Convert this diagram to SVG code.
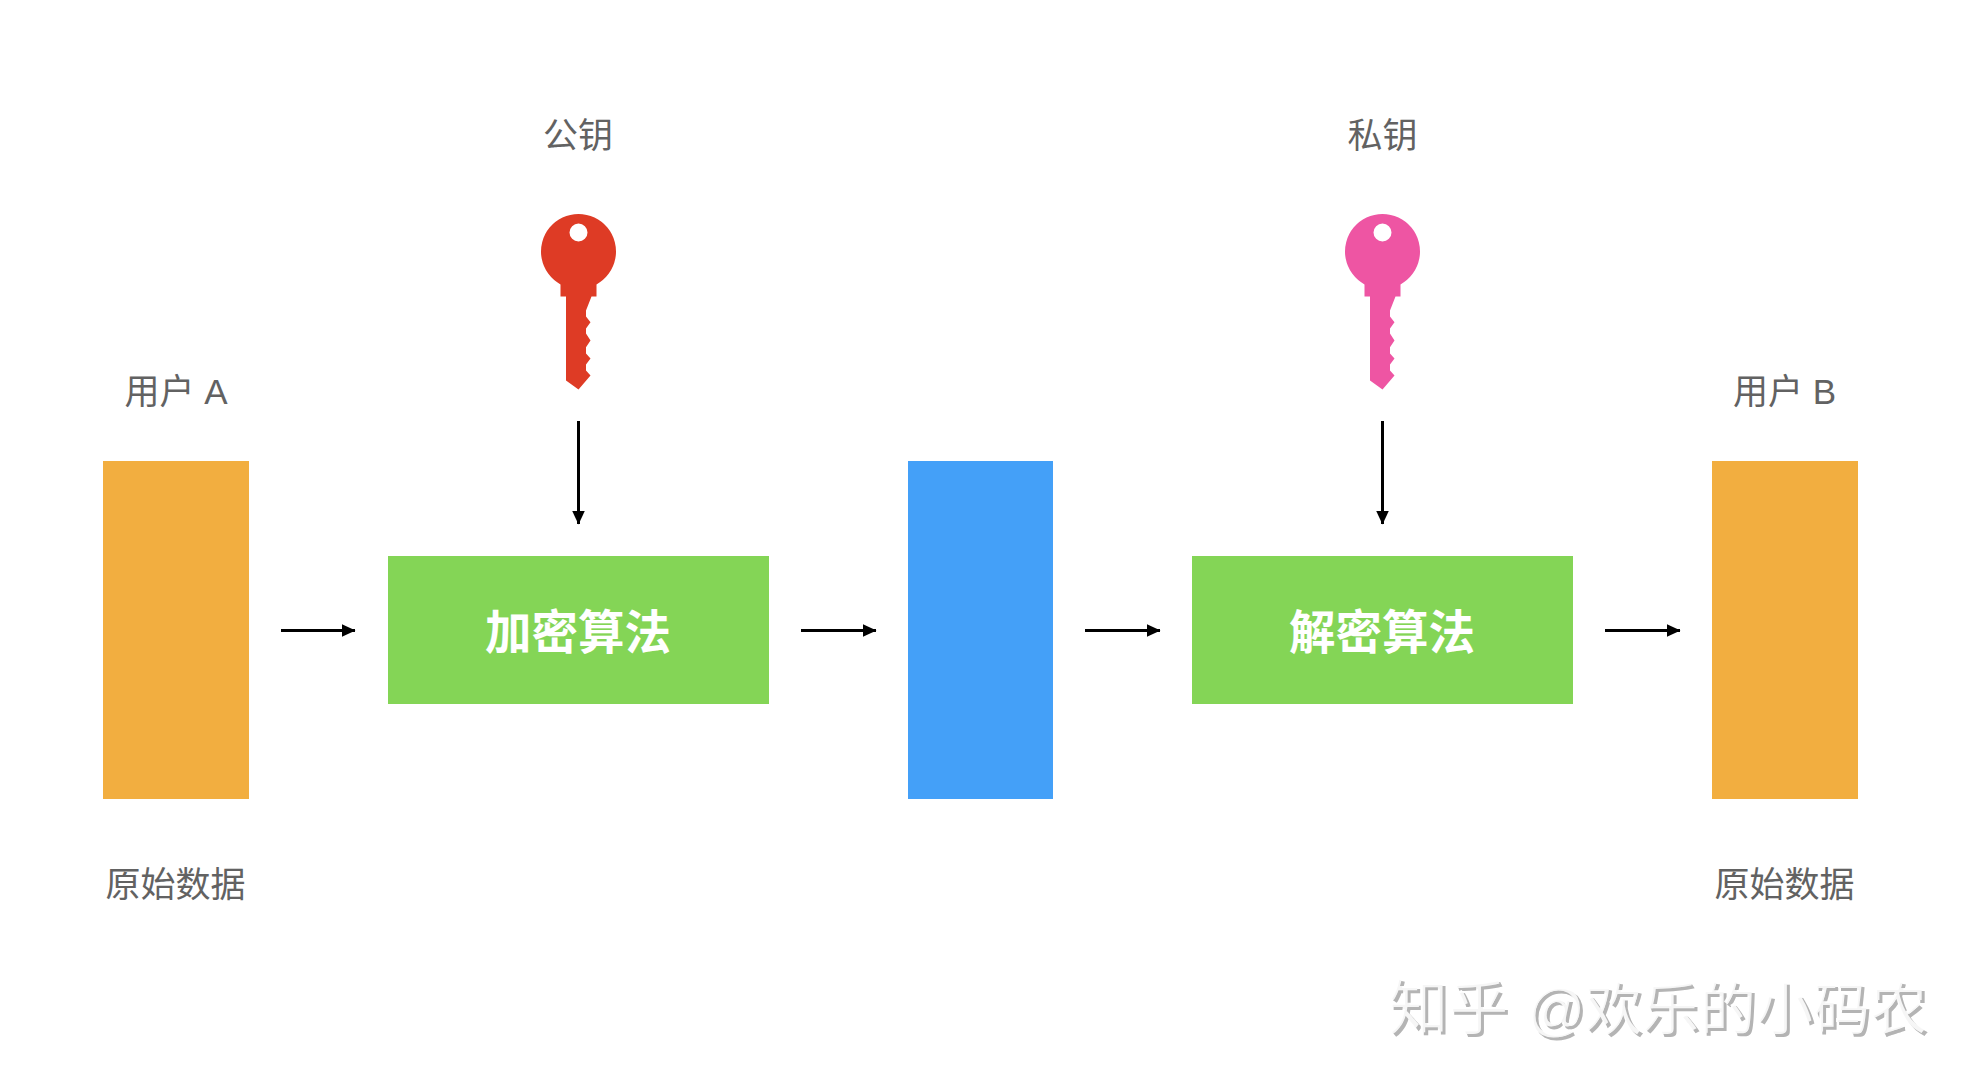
<svg xmlns="http://www.w3.org/2000/svg" xmlns:xlink="http://www.w3.org/1999/xlink" width="1978" height="1088" viewBox="0 0 1978 1088">
<style>
text{font-family:"Liberation Sans","Noto Sans CJK SC",sans-serif;text-anchor:middle}
.lb{font-size:35px;fill:#626262}
.alg{font-size:46.500px;font-weight:700;fill:#fff}
.wm{font-size:57px;fill:#b4b4b4;text-anchor:start}
.orange{fill:#f2ae40}.green{fill:#84d556}.blue{fill:#44a0f8}
.conn{stroke:#000;stroke-width:3;fill:none;marker-end:url(#ah)}
</style>
<defs>
<marker id="ah" viewBox="0 0 14 14" refX="13.5" refY="7" markerWidth="14" markerHeight="14" markerUnits="userSpaceOnUse" orient="auto"><path d="M0 0.5L14 7L0 13.5Z" fill="#000"/></marker>
<path id="key" fill-rule="evenodd" d="M-18 32.900A37.500 37.500 0 1 1 18 32.900V45H13L7.500 59V65L12 70.700L7.500 77V82L12 89L7.500 95.700V102L12 107L7.500 113V119L12 124L0 138L-12.500 129V45H-18ZM0 -28A9 9 0 1 0 0 -10A9 9 0 1 0 0 -28Z"/>
<filter id="wmf" x="-2%" y="-10%" width="104%" height="120%"><feOffset in="SourceAlpha" dx="1.6" dy="1.6" result="o"/><feComposite in="SourceGraphic" in2="o" operator="in" result="a"/><feOffset in="SourceGraphic" dx="2.500" dy="2.500" result="s"/><feComposite in="s" in2="SourceAlpha" operator="out" result="b"/><feComponentTransfer in="a" result="c"><feFuncA type="linear" slope="0.12"/></feComponentTransfer><feMerge><feMergeNode in="c"/><feMergeNode in="b"/></feMerge></filter>
</defs>
<rect width="1978" height="1088" fill="#fff"/>
<g id="connectors">
<path class="conn" d="M281 630.500H355"/>
<path class="conn" d="M801 630.500H876"/>
<path class="conn" d="M1085 630.500H1160"/>
<path class="conn" d="M1605 630.500H1680"/>
<path class="conn" d="M578.500 421V524"/>
<path class="conn" d="M1382.500 421V524"/>
</g>
<g id="userA"><text class="lb" x="176" y="404">用户 A</text><rect class="orange" x="103" y="461" width="146" height="338"/><text class="lb" x="175.500" y="896.500">原始数据</text></g>
<g id="encrypt"><rect class="green" x="388" y="556" width="381" height="148"/><text class="alg" x="578" y="648.500">加密算法</text></g>
<g id="publicKey"><text class="lb" x="578" y="148">公钥</text><use xlink:href="#key" href="#key" x="578.500" y="251.500" fill="#de3b25"/></g>
<g id="cipher"><rect class="blue" x="908" y="461" width="145" height="338"/></g>
<g id="decrypt"><rect class="green" x="1192" y="556" width="381" height="148"/><text class="alg" x="1382" y="648.500">解密算法</text></g>
<g id="privateKey"><text class="lb" x="1382.500" y="148">私钥</text><use xlink:href="#key" href="#key" x="1382.500" y="251.500" fill="#ee55a3"/></g>
<g id="userB"><text class="lb" x="1784.500" y="404">用户 B</text><rect class="orange" x="1712" y="461" width="146" height="338"/><text class="lb" x="1784.500" y="896.500">原始数据</text></g>
<g id="watermark"><text class="wm" x="1388" y="1029" filter="url(#wmf)"><tspan font-size="60">知乎 </tspan><tspan x="1527">@欢乐的小码农</tspan></text></g>
</svg>
